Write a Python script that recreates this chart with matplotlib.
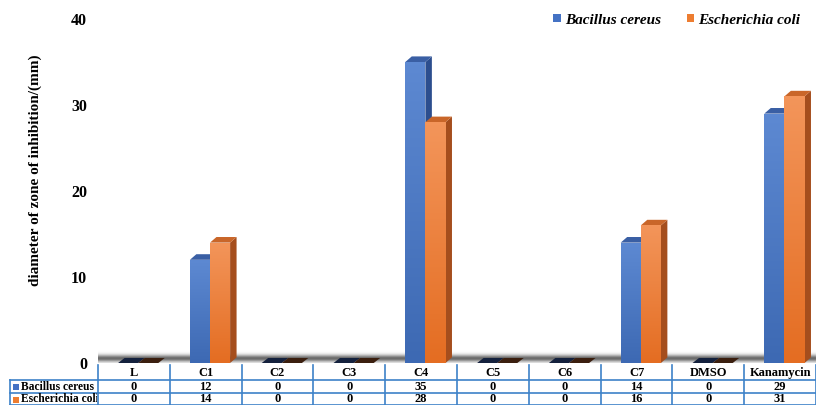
import numpy as np
import matplotlib.pyplot as plt
from matplotlib.patches import Polygon, Rectangle, Patch
from matplotlib.colors import LinearSegmentedColormap
from matplotlib.transforms import blended_transform_factory

categories = ["L", "C1", "C2", "C3", "C4", "C5", "C6", "C7", "DMSO", "Kanamycin"]
bacillus = [0, 12, 0, 0, 35, 0, 0, 14, 0, 29]
ecoli = [0, 14, 0, 0, 28, 0, 0, 16, 0, 31]
series_names = ["Bacillus cereus", "Escherichia coli"]

W, H = 816, 405
plt.rcParams["font.family"] = ["Liberation Serif", "DejaVu Serif"]
plt.rcParams["font.weight"] = "bold"

fig = plt.figure(figsize=(W / 100, H / 100), dpi=100)
fig.patch.set_facecolor("white")
ax = fig.add_axes([98 / W, (H - 363) / H, (W - 98) / W, (363 - 19) / H])
ax.set_xlim(-0.5, len(categories) - 0.5)
ax.set_ylim(0, 40)

BW = 0.28          # bar width in category units
DX, DY = 0.09, 0.65  # depth offset (x in categories, y in data units)

styles = [
    dict(front=("#5d89d2", "#3d69b3"), side="#2c4e8e", top="#3a5fa4", flat="#14213d"),
    dict(front=("#f3955a", "#e46d22"), side="#a54e1d", top="#c96629", flat="#3b1f0f"),
]


def gradient_poly(verts, c_top, c_bot, z):
    poly = Polygon(verts, closed=True, facecolor="none", edgecolor="none", zorder=z)
    ax.add_patch(poly)
    cmap = LinearSegmentedColormap.from_list("g", [c_bot, c_top])
    xs = [v[0] for v in verts]
    ys = [v[1] for v in verts]
    grad = np.linspace(0, 1, 64).reshape(-1, 1)
    im = ax.imshow(grad, extent=(min(xs), max(xs), min(ys), max(ys)), origin="lower",
                   cmap=cmap, aspect="auto", zorder=z, interpolation="bilinear")
    im.set_clip_path(poly)


def draw_bar(x0, h, st, z):
    x1 = x0 + BW
    if h <= 0:
        ax.add_patch(Polygon([(x0, 0), (x1, 0), (x1 + DX, DY * 0.9), (x0 + DX, DY * 0.9)],
                             facecolor=st["flat"], edgecolor="none", zorder=z))
        return
    gradient_poly([(x0, 0), (x1, 0), (x1, h), (x0, h)], st["front"][0], st["front"][1], z + 0.2)
    ax.add_patch(Polygon([(x1, 0), (x1 + DX, DY), (x1 + DX, h + DY), (x1, h)],
                         facecolor=st["side"], edgecolor="none", zorder=z))
    ax.add_patch(Polygon([(x0, h), (x1, h), (x1 + DX, h + DY), (x0 + DX, h + DY)],
                         facecolor=st["top"], edgecolor="none", zorder=z))


# floor shadow
floor = np.exp(-((np.linspace(0, 1.4, 40) - 0.5) / 0.38) ** 2).reshape(-1, 1)
floor_cmap = LinearSegmentedColormap.from_list("floor", ["#ffffff", "#6a6a6a"])
ax.imshow(floor, extent=(-0.5, len(categories) - 0.5, 0, 1.4), origin="lower",
          cmap=floor_cmap, aspect="auto", zorder=1, interpolation="bilinear")

for i in range(len(categories)):
    draw_bar(i - 0.22, bacillus[i], styles[0], 3)
    draw_bar(i - 0.22 + BW, ecoli[i], styles[1], 5)

ax.set_xlim(-0.5, len(categories) - 0.5)
ax.set_ylim(0, 40)
ax.set_yticks([0, 10, 20, 30, 40])
ax.set_xticks([])
ax.tick_params(axis="y", length=0, pad=8, labelsize=11.5)
for s in ax.spines.values():
    s.set_visible(False)

fig.text(35 / W, (H - 170) / H, "diameter of zone of inhibition/(mm)", rotation=90,
         ha="center", va="center", fontsize=11, fontweight="bold")

# data table under the axis
tr = blended_transform_factory(ax.transData, fig.transFigure)
fy = lambda py: (H - py) / H
line_kw = dict(color="#3d82c8", lw=1.2, clip_on=False)
n = len(categories)
for k in range(n + 1):
    ax.plot([k - 0.5, k - 0.5], [fy(365), fy(405)], transform=tr, **line_kw)
for py in (380, 393, 404.5):
    ax.plot([-0.5, n - 0.5], [fy(py), fy(py)], transform=tr, **line_kw)
    fig.lines.append(plt.Line2D([10 / W, 98 / W], [fy(py), fy(py)], transform=fig.transFigure, **line_kw))
fig.lines.append(plt.Line2D([10 / W, 10 / W], [fy(380), fy(405)], transform=fig.transFigure, **line_kw))

for i, cat in enumerate(categories):
    ax.text(i, fy(373), cat, transform=tr, ha="center", va="center", fontsize=9, fontweight="bold")
    ax.text(i, fy(386.5), str(bacillus[i]), transform=tr, ha="center", va="center", fontsize=9, fontweight="bold")
    ax.text(i, fy(399.5), str(ecoli[i]), transform=tr, ha="center", va="center", fontsize=9, fontweight="bold")

for name, col, py in zip(series_names, ["#4472c4", "#ed7d31"], [386.5, 399.5]):
    fig.patches.append(Rectangle((13 / W, fy(py + 3)), 6 / W, 6 / H, transform=fig.transFigure,
                                 facecolor=col, edgecolor="none"))
    t = fig.text(21 / W, fy(py), name, ha="left", va="center", fontsize=8.3, fontweight="bold")
    t.set_clip_path(Rectangle((10 / W, 0), 87 / W, 1, transform=fig.transFigure))
    t.set_clip_on(True)

handles = [Patch(facecolor="#4472c4", label=series_names[0]),
           Patch(facecolor="#ed7d31", label=series_names[1])]
fig.legend(handles=handles, loc="center right", bbox_to_anchor=(814 / W, fy(20)), ncol=2,
           frameon=False, handlelength=0.5, handleheight=0.5, handletextpad=0.25, columnspacing=1.7,
           prop=dict(family="Liberation Serif", weight="bold", style="italic", size=11))

fig.savefig("out.png", dpi=100)
